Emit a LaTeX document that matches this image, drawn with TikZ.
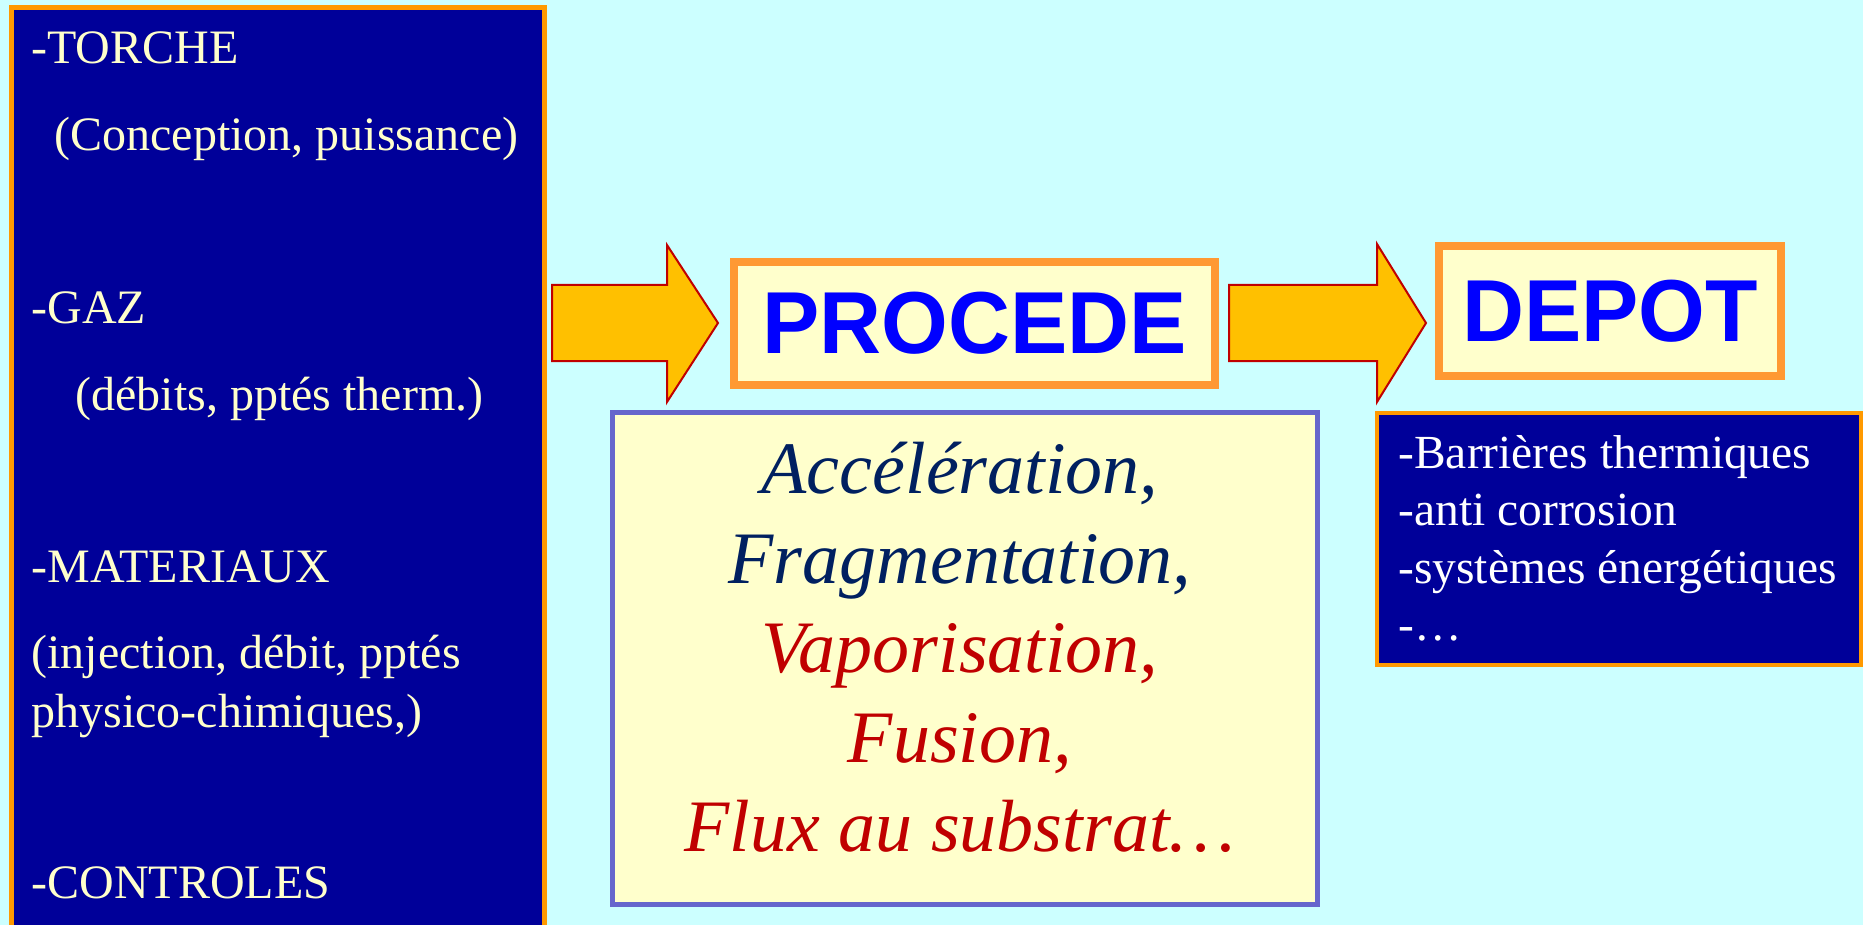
\documentclass[tikz,border=0pt]{standalone}
\usepackage{fontspec}
\setmainfont{Liberation Serif}
\newfontfamily\titlefont[FakeStretch=0.975]{Liberation Sans}
\definecolor{bgcyan}{HTML}{CCFFFF}
\definecolor{boxblue}{HTML}{000099}
\definecolor{boxorange}{HTML}{FF9900}
\definecolor{titleorange}{HTML}{FF9933}
\definecolor{paleyellow}{HTML}{FFFFCC}
\definecolor{titleblue}{HTML}{0000FF}
\definecolor{notelilac}{HTML}{6666CC}
\definecolor{arrowgold}{HTML}{FFC000}
\definecolor{arrowred}{HTML}{C00000}
\definecolor{navy}{HTML}{002060}
\definecolor{darkred}{HTML}{C00000}
\begin{document}
\begin{tikzpicture}[x=0.5pt,y=-0.5pt]
	\tikzstyle{bluebox}=[rectangle,draw=boxorange,fill=boxblue,line width=2.5pt,inner sep=0pt]
	\tikzstyle{titlebox}=[rectangle,draw=titleorange,fill=paleyellow,line width=4pt,inner sep=0pt,text=titleblue,font=\titlefont\bfseries\fontsize{44}{52}\selectfont]
	\tikzstyle{notebox}=[rectangle,draw=notelilac,fill=paleyellow,line width=2.5pt,inner sep=0pt]
	\tikzstyle{bigarrow}=[draw=arrowred,fill=arrowgold,line width=1pt]
	\tikzstyle{leftitem}=[anchor=base west,inner sep=0pt,text=paleyellow,font=\fontsize{24}{28.8}\selectfont]
	\tikzstyle{rightitem}=[anchor=base west,inner sep=0pt,text=white,font=\fontsize{23.75}{28.5}\selectfont]
	\tikzstyle{process}=[anchor=base,inner sep=0pt,font=\itshape\fontsize{37}{44.75}\selectfont]
	\useasboundingbox (0,0) rectangle (1863,925);
	\fill[bgcyan] (0,0) rectangle (1863,925);
	\clip (0,0) rectangle (1863,925);
	% parameters
	\node[bluebox,minimum width=266.5pt,minimum height=471.25pt] (params) at (278,478.75) {};
	\node[leftitem] (torche) at (31,64) {-TORCHE};
	\node[leftitem] (torcheinfo) at (54,151) {(Conception, puissance)};
	\node[leftitem] (gaz) at (31,323) {-GAZ};
	\node[leftitem] (gazinfo) at (75,410) {(débits, pptés therm.)};
	\node[leftitem] (mat) at (31,582) {-MATERIAUX};
	\node[leftitem] (matinfo) at (31,668) {(injection, débit, pptés};
	\node[leftitem] (matinfob) at (31,727) {physico-chimiques,)};
	\node[leftitem] (ctrl) at (31,898) {-CONTROLES};
	% process
	\draw[bigarrow] (552,285) -- (667,285) -- (667,245) -- (718,323) -- (667,402) -- (667,361) -- (552,361) -- cycle;
	\node[titlebox,minimum width=240.3pt,minimum height=61.5pt] (procede) at (974.3,323.5) {PROCEDE};
	\node[notebox,minimum width=352.5pt,minimum height=246pt] (process) at (964.5,658.5) {};
	\node[process,text=navy] (accel) at (960,493) {Accélération,};
	\node[process,text=navy] (frag) at (960,583) {Fragmentation,};
	\node[process,text=darkred] (vapo) at (960,672) {Vaporisation,};
	\node[process,text=darkred] (fusion) at (960,762) {Fusion,};
	\node[process,text=darkred] (flux) at (960,851) {Flux au substrat…};
	% deposit
	\draw[bigarrow] (1229,285) -- (1377,285) -- (1377,244) -- (1426,323) -- (1377,402) -- (1377,361) -- (1229,361) -- cycle;
	\node[titlebox,minimum width=170.75pt,minimum height=64.5pt] (depot) at (1610.2,311) {DEPOT};
	\node[bluebox,line width=2pt,minimum width=242pt,minimum height=126pt] (uses) at (1619,539) {};
	\node[rightitem] (barrier) at (1398,468) {-Barrières thermiques};
	\node[rightitem] (corrosion) at (1398,525) {-anti corrosion};
	\node[rightitem] (energy) at (1398,583) {-systèmes énergétiques};
	\node[rightitem] (etc) at (1398,640) {-…};
\end{tikzpicture}
\end{document}
